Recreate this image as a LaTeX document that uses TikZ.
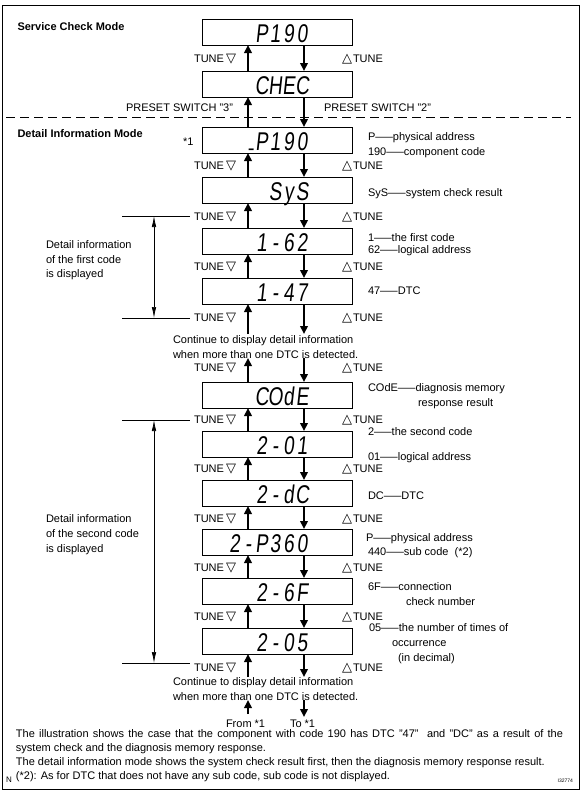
\documentclass[tikz,border=0pt]{standalone}
\usepackage{graphicx}
\usepackage{fontspec}
\setmainfont{Liberation Sans}
\newfontfamily\lcdfont[FakeSlant=0.15]{Liberation Sans}
\newfontfamily\symfont{DejaVu Sans}
\usetikzlibrary{arrows.meta}
\newcommand\ldash{\scalebox{1.6}[1]{—}}
\newcommand\lcc[1]{\makebox[13.5pt][c]{#1}}
\newcommand\lcr[1]{\makebox[13.5pt][r]{#1\kern1.5pt}}
\newcommand\lcu{\makebox[7pt][c]{\raisebox{3.4pt}{\scalebox{0.45}[1]{\_}}}}
\newcommand\lcd[1]{\scalebox{1}[1.35]{#1}}
\newcommand\tridn{{\symfont\fontsize{13}{13}\selectfont ▽}}
\newcommand\triup{{\symfont\fontsize{13}{13}\selectfont △}}
\begin{document}
\begin{tikzpicture}[x=1pt,y=-1pt,
  every node/.style={inner sep=0pt, outer sep=0pt},
  txt/.style={anchor=base west, font=\fontsize{11}{13}\selectfont},
  txtr/.style={anchor=base east, font=\fontsize{11}{13}\selectfont},
  head/.style={anchor=base west, font=\fontsize{11}{13}\selectfont\bfseries},
  disp/.style={draw, line width=0.9pt, minimum width=150pt, minimum height=26pt},
  lcdtxt/.style={anchor=base east, font=\lcdfont\fontsize{19}{19}\selectfont},
  arr/.style={line width=2.6pt, -{Triangle[length=8pt,width=7.5pt]}},
  brk/.style={line width=0.7pt},
  brkarr/.style={line width=0.7pt, {Latex[length=11pt,width=4.5pt]}-{Latex[length=11pt,width=4.5pt]}},
]
\useasboundingbox (0,0) rectangle (584,795);
\draw[line width=1pt] (2.5,5) rectangle (579,789);

% headers
\node[head] (hsc) at (17.5,30) {Service Check Mode};
\node[head] (hdi) at (17.5,137) {Detail Information Mode};

% display boxes
\node[disp] (b1) at (277,32) {};
\node[disp] (b2) at (277,84) {};
\node[disp] (b3) at (277,140) {};
\node[disp] (b4) at (277,190) {};
\node[disp] (b5) at (277,241) {};
\node[disp] (b6) at (277,291) {};
\node[disp] (b7) at (277,395) {};
\node[disp] (b8) at (277,444) {};
\node[disp] (b9) at (277,493) {};
\node[disp] (b10) at (277,542) {};
\node[disp] (b11) at (277,591) {};
\node[disp] (b12) at (277,641) {};

% display texts
\node[lcdtxt] (t1) at (309,42) {\lcd{\lcc{P}\lcr{1}\lcc{9}\lcc{0}}};
\node[lcdtxt] (t2) at (309,94) {\lcd{\lcc{C}\lcc{H}\lcc{E}\lcc{C}}};
\node[lcdtxt] (t3) at (309,150) {\lcd{\lcu\lcc{P}\lcr{1}\lcc{9}\lcc{0}}};
\node[lcdtxt] (t4) at (309,200) {\lcd{\lcc{S}\lcc{y}\lcc{S}}};
\node[lcdtxt] (t5) at (309,251) {\lcd{\lcr{1}\lcc{-}\lcc{6}\lcc{2}}};
\node[lcdtxt] (t6) at (309,301) {\lcd{\lcr{1}\lcc{-}\lcc{4}\lcc{7}}};
\node[lcdtxt] (t7) at (309,405) {\lcd{\lcc{C}\lcc{O}\lcc{d}\lcc{E}}};
\node[lcdtxt] (t8) at (309,454) {\lcd{\lcc{2}\lcc{-}\lcc{0}\lcr{1}}};
\node[lcdtxt] (t9) at (309,503) {\lcd{\lcc{2}\lcc{-}\lcc{d}\lcc{C}}};
\node[lcdtxt] (t10) at (309,552) {\lcd{\lcc{2}\lcc{-}\lcc{P}\lcc{3}\lcc{6}\lcc{0}}};
\node[lcdtxt] (t11) at (309,601) {\lcd{\lcc{2}\lcc{-}\lcc{6}\lcc{F}}};
\node[lcdtxt] (t12) at (309,651) {\lcd{\lcc{2}\lcc{-}\lcc{0}\lcc{5}}};

% arrows between boxes
\foreach \a/\b in {b1/b2,b2/b3,b3/b4,b4/b5,b5/b6,b7/b8,b8/b9,b9/b10,b10/b11,b11/b12}{
  \draw[arr] ([xshift=-29pt]\b.north) -- ([xshift=-29pt]\a.south);
  \draw[arr] ([xshift=27pt]\a.south) -- ([xshift=27pt]\b.north);
}
\coordinate (c1u) at (248,334);
\coordinate (c1d) at (304,334);
\coordinate (c2u) at (248,358);
\coordinate (c2d) at (304,358);
\coordinate (c3u) at (248,677);
\coordinate (c3d) at (304,677);
\coordinate (c4ua) at (248,714);
\coordinate (c4ub) at (248,700);
\coordinate (c4da) at (304,700);
\coordinate (c4db) at (304,717);
\draw[arr] (c1u) -- ([xshift=-29pt]b6.south);
\draw[arr] ([xshift=27pt]b6.south) -- (c1d);
\draw[arr] ([xshift=-29pt]b7.north) -- (c2u);
\draw[arr] (c2d) -- ([xshift=27pt]b7.north);
\draw[arr] (c3u) -- ([xshift=-29pt]b12.south);
\draw[arr] ([xshift=27pt]b12.south) -- (c3d);
\draw[arr] (c4ua) -- (c4ub);
\draw[arr] (c4da) -- (c4db);

% TUNE labels
\foreach \r in {58,165,216,266,317,367,419,468,518,567,616}{
  \node[txtr] at (236,\r+4) {TUNE\kern2pt\tridn};
  \node[txt] at (342,\r+4) {\triup\kern1pt TUNE};
}
\node[txtr] (tl12) at (236,671) {TUNE\kern2pt\tridn};
\node[txt] (tr12) at (342,671) {\triup\kern1pt TUNE};

% preset switch and dashed separator
\node[txt] (ps3) at (126,111) {PRESET SWITCH "3"};
\node[txt] (ps2) at (324,111) {PRESET SWITCH "2"};
\coordinate (dl1) at (6,117);
\coordinate (dl2) at (571,117);
\draw[line width=1pt, dash pattern=on 9pt off 5pt] (dl1) -- (dl2);

\node[txt] (st1) at (183,145) {*1};

% right-side legends
\node[txt] (r1) at (368,140) {P\ldash physical address};
\node[txt] (r2) at (368,155) {190\ldash component code};
\node[txt] (r3) at (368,196) {SyS\ldash system check result};
\node[txt] (r4) at (368,241) {1\ldash the first code};
\node[txt] (r5) at (368,253) {62\ldash logical address};
\node[txt] (r6) at (368,294) {47\ldash DTC};
\node[txt] (r7) at (368,391) {COdE\ldash diagnosis memory};
\node[txt] (r8) at (418,406) {response result};
\node[txt] (r9) at (368,435) {2\ldash the second code};
\node[txt] (r10) at (368,460) {01\ldash logical address};
\node[txt] (r11) at (368,499) {DC\ldash DTC};
\node[txt] (r12) at (366,541) {P\ldash physical address};
\node[txt] (r13) at (368,555) {440\ldash sub code\ \ (*2)};
\node[txt] (r14) at (368,590) {6F\ldash connection};
\node[txt] (r15) at (406,605) {check number};
\node[txt] (r16) at (369,631) {05\ldash the number of times of};
\node[txt] (r17) at (392,646) {occurrence};
\node[txt] (r18) at (398,661) {(in decimal)};

% brackets
\coordinate (k1l) at (122,216);
\coordinate (k1r) at (190,216);
\coordinate (k2l) at (122,318);
\coordinate (k2r) at (190,318);
\coordinate (k1t) at (154,216);
\coordinate (k1b) at (154,318);
\draw[brk] (k1l) -- (k1r);
\draw[brk] (k2l) -- (k2r);
\draw[brkarr] (k1t) -- (k1b);
\coordinate (k3l) at (122,420);
\coordinate (k3r) at (190,420);
\coordinate (k4l) at (122,663);
\coordinate (k4r) at (190,663);
\coordinate (k3t) at (154,420);
\coordinate (k3b) at (154,663);
\draw[brk] (k3l) -- (k3r);
\draw[brk] (k4l) -- (k4r);
\draw[brkarr] (k3t) -- (k3b);

\node[txt] (l1) at (46,248) {Detail information};
\node[txt] (l2) at (46,263) {of the first code};
\node[txt] (l3) at (46,277) {is displayed};
\node[txt] (l4) at (46,522) {Detail information};
\node[txt] (l5) at (46,537) {of the second code};
\node[txt] (l6) at (46,552) {is displayed};

% continue texts
\node[txt] (co1) at (173,343) {Continue to display detail information};
\node[txt] (co2) at (173,358) {when more than one DTC is detected.};
\node[txt] (co3) at (173,685) {Continue to display detail information};
\node[txt] (co4) at (173,700) {when more than one DTC is detected.};
\node[txt] (fr) at (226,727) {From *1};
\node[txt] (to) at (290,727) {To *1};

% footer
\node[txt] (f1) at (16,737) {\makebox[547pt][s]{The illustration shows the case that the component with code 190 has DTC "47"\ \ and "DC" as a result of the}};
\node[txt] (f2) at (16,751) {system check and the diagnosis memory response.};
\node[txt] (f3) at (16,765) {The detail information mode shows the system check result first, then the diagnosis memory response result.};
\node[txt] (f4) at (16,779) {(*2): As for DTC that does not have any sub code, sub code is not displayed.};
\node[anchor=base west, font=\fontsize{8}{8}\selectfont] (nn) at (6,782) {N};
\node[anchor=base east, font=\fontsize{5}{5}\selectfont] (id) at (573,782) {I32774};
\end{tikzpicture}
\end{document}
